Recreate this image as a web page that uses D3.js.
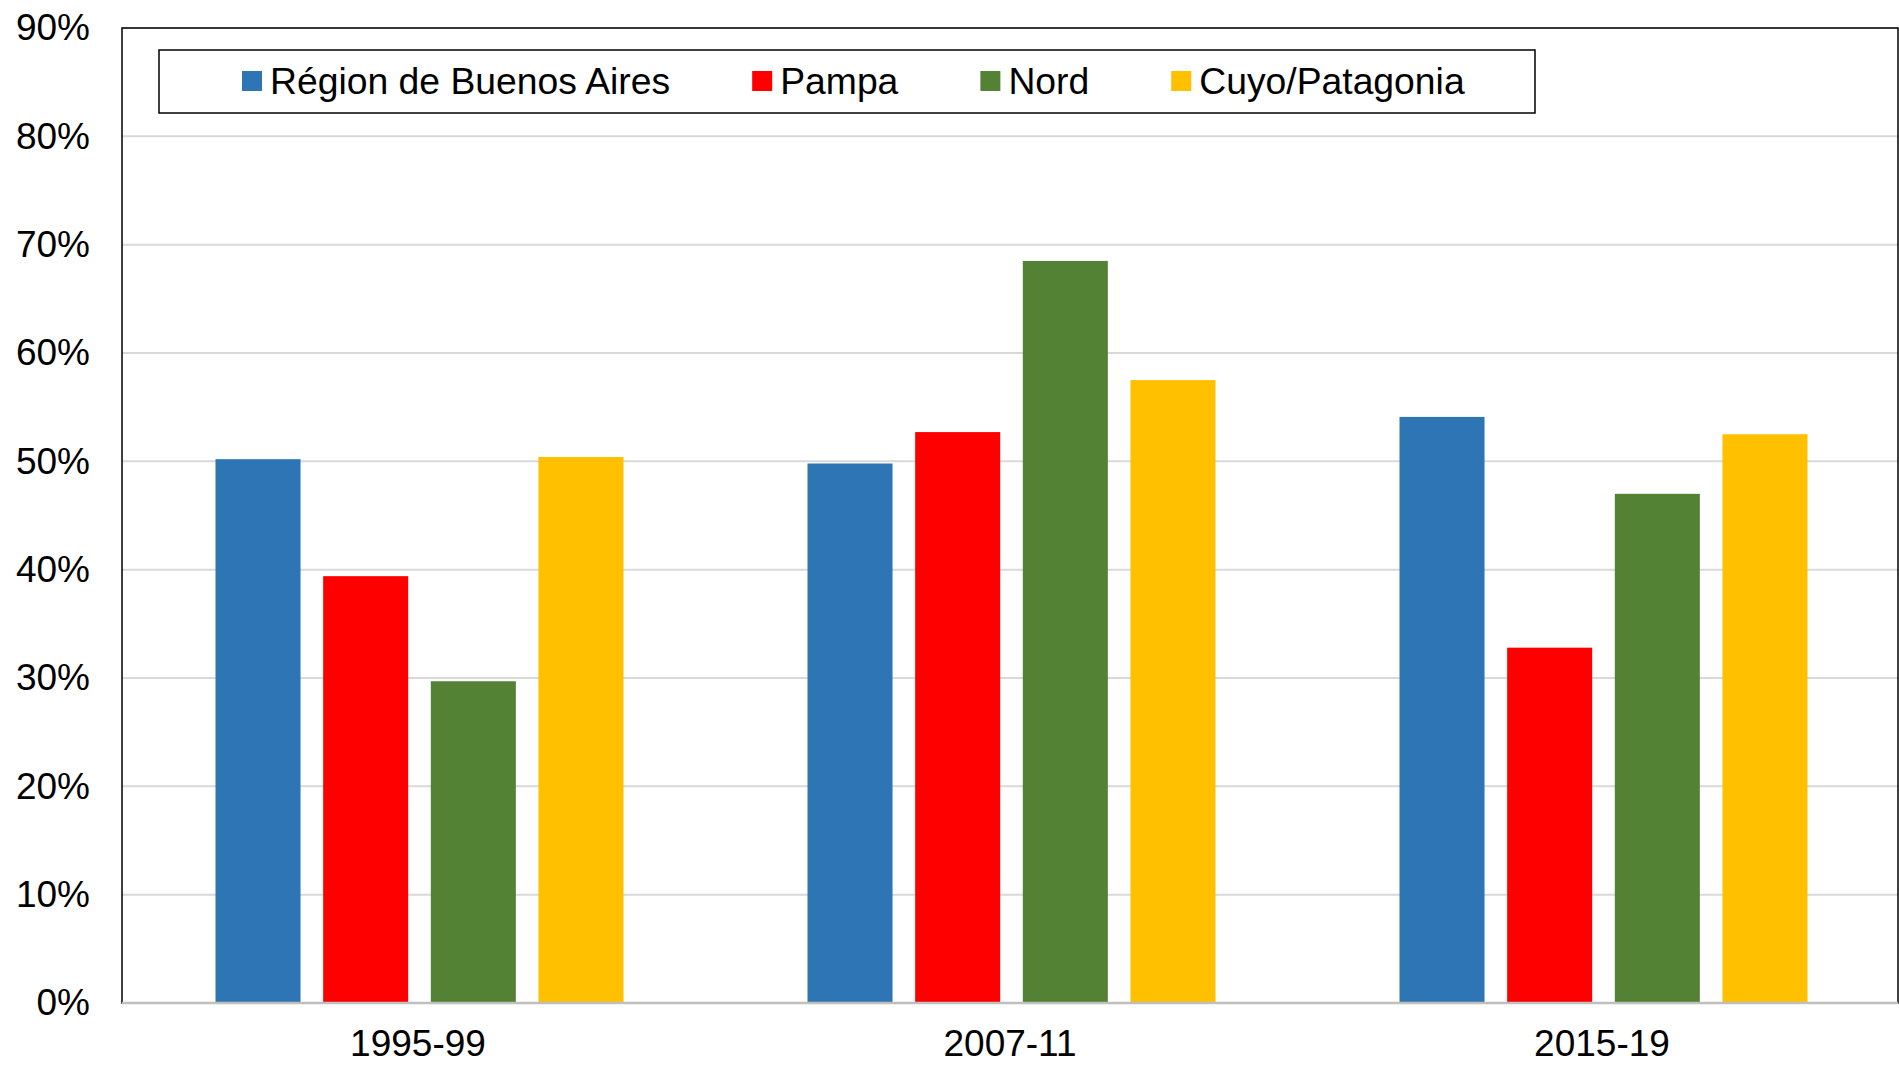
<!DOCTYPE html>
<html>
<head>
<meta charset="utf-8">
<script src="https://cdn.jsdelivr.net/npm/d3@7"></script>
<style>
  body { margin: 0; background: #fff; }
  text { font-family: "Liberation Sans", Arial, sans-serif; fill: #000; }
</style>
</head>
<body>
<div id="chart"></div>
<script>
var periods = ["1995-99", "2007-11", "2015-19"];
var regions = ["Région de Buenos Aires", "Pampa", "Nord", "Cuyo/Patagonia"];
var colors = ["#2E75B6", "#FF0000", "#548235", "#FFC000"];
// share per region, one list per period (percent)
var buenosAires = [50.2, 49.8, 54.1];
var pampa = [39.4, 52.7, 32.8];
var nord = [29.7, 68.5, 47.0];
var cuyo = [50.4, 57.5, 52.5];
var yTicks = [0, 10, 20, 30, 40, 50, 60, 70, 80, 90];

function draw() {

var series = [buenosAires, pampa, nord, cuyo];

var width = 1899, height = 1065;
var plotLeft = 122, plotRight = 1898, plotTop = 28, plotBottom = 1003;

var svg = d3.select("#chart").append("svg")
  .attr("width", width)
  .attr("height", height);

var x = d3.scaleBand().domain(periods).range([plotLeft, plotRight]).padding(0);
var xInner = d3.scaleBand().domain(regions).range([93.5, 501.5]).paddingInner(0.21).paddingOuter(0);
var y = d3.scaleLinear().domain([0, 90]).range([plotBottom, plotTop]);

// gridlines
svg.append("g")
  .selectAll("line")
  .data(yTicks.slice(1))
  .enter().append("line")
    .attr("x1", plotLeft).attr("x2", plotRight)
    .attr("y1", function(d) { return y(d); })
    .attr("y2", function(d) { return y(d); })
    .attr("stroke", "#D9D9D9")
    .attr("stroke-width", 2);

// bars
var groups = svg.append("g")
  .selectAll("g")
  .data(series)
  .enter().append("g")
    .attr("fill", function(d, i) { return colors[i]; });

groups.selectAll("rect")
  .data(function(d, i) { return d.map(function(v, j) { return {region: regions[i], period: periods[j], value: v}; }); })
  .enter().append("rect")
    .attr("x", function(d) { return x(d.period) + xInner(d.region); })
    .attr("y", function(d) { return y(d.value); })
    .attr("width", xInner.bandwidth())
    .attr("height", function(d) { return y(0) - y(d.value); });

// plot border
svg.append("rect")
  .attr("x", plotLeft).attr("y", plotTop)
  .attr("width", plotRight - plotLeft).attr("height", plotBottom - plotTop)
  .attr("fill", "none")
  .attr("stroke", "#000")
  .attr("stroke-width", 1.5);

svg.append("line")
  .attr("x1", plotLeft).attr("x2", plotRight)
  .attr("y1", plotBottom).attr("y2", plotBottom)
  .attr("stroke", "#BFBFBF")
  .attr("stroke-width", 2.5);

// y axis
var yAxis = d3.axisLeft(y)
  .tickValues(yTicks)
  .tickSize(0)
  .tickPadding(32)
  .tickFormat(function(d) { return d + "%"; });

svg.append("g")
  .attr("transform", "translate(" + plotLeft + ",0)")
  .call(yAxis)
  .call(function(g) { g.select(".domain").remove(); })
  .selectAll("text")
    .style("font-size", "37px")
    .attr("font-family", "Liberation Sans, Arial, sans-serif")
    .attr("fill", "#000");

// x axis
var xAxis = d3.axisBottom(x).tickSize(0).tickPadding(27);

svg.append("g")
  .attr("transform", "translate(0," + plotBottom + ")")
  .call(xAxis)
  .call(function(g) { g.select(".domain").remove(); })
  .selectAll("text")
    .style("font-size", "37px")
    .attr("font-family", "Liberation Sans, Arial, sans-serif")
    .attr("fill", "#000");

// legend
svg.append("rect")
  .attr("x", 159).attr("y", 50)
  .attr("width", 1376).attr("height", 63)
  .attr("fill", "#fff")
  .attr("stroke", "#000")
  .attr("stroke-width", 1.5);

var lx = 242;
regions.forEach(function(r, i) {
  svg.append("rect")
    .attr("x", lx).attr("y", 71)
    .attr("width", 20).attr("height", 20)
    .attr("fill", colors[i]);
  var t = svg.append("text")
    .attr("x", lx + 28)
    .attr("y", 94)
    .style("font-size", "37.3px")
    .text(r);
  lx = lx + 28 + t.node().getComputedTextLength() + 82;
});

}

draw();
</script>
</body>
</html>
